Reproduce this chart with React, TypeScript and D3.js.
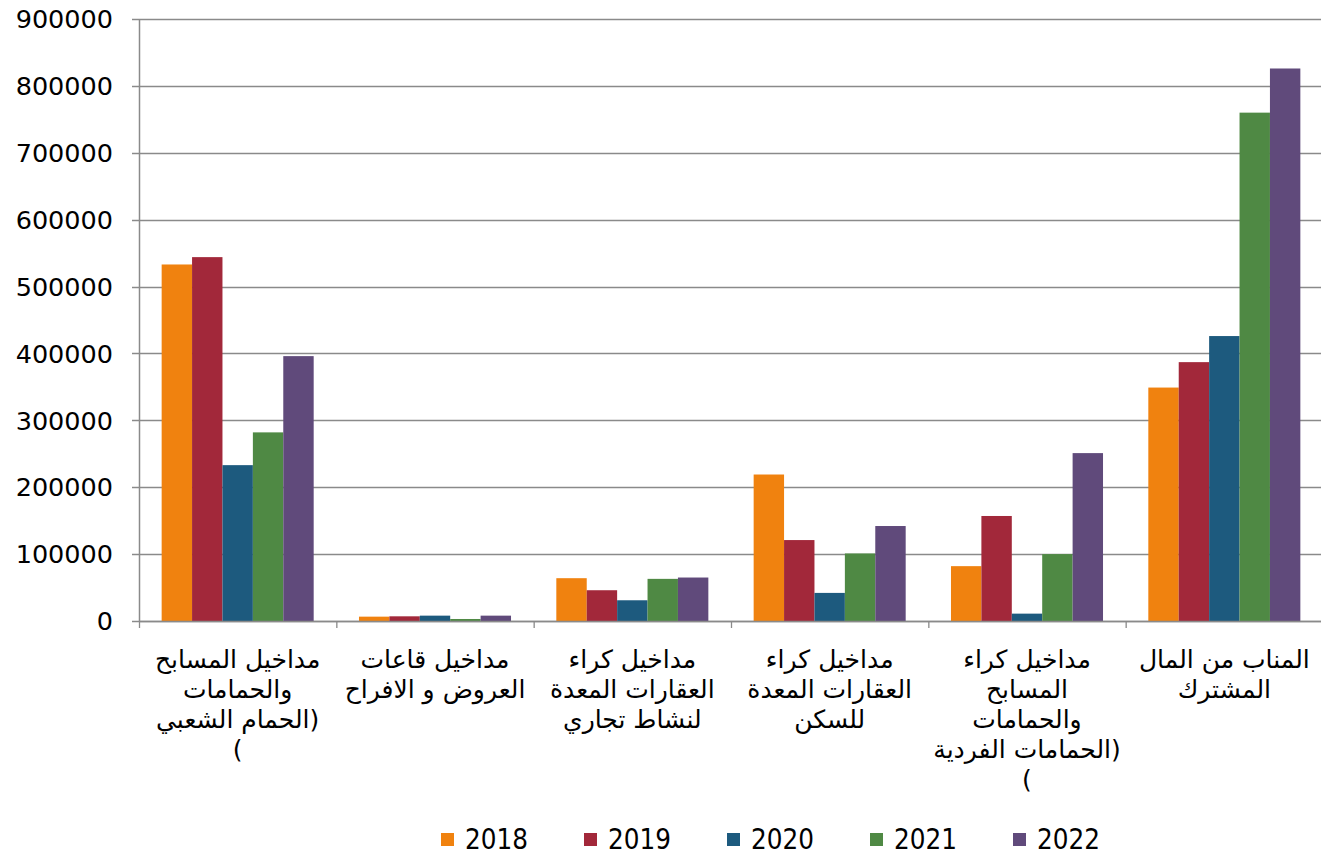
import React from "react";
import * as d3 from "d3";

// Parentheses as they appear in the rendered right-to-left lines
const PAREN_LEFT_SIDE = "\u0029";
const PAREN_ALONE = "\u0028";

const categories: string[][] = [
  ["مداخيل المسابح", "والحمامات", "الحمام الشعبي" + PAREN_LEFT_SIDE, PAREN_ALONE],
  ["مداخيل قاعات", "العروض و الافراح"],
  ["مداخيل كراء", "العقارات المعدة", "لنشاط تجاري"],
  ["مداخيل كراء", "العقارات المعدة", "للسكن"],
  ["مداخيل كراء", "المسابح", "والحمامات", "الحمامات الفردية" + PAREN_LEFT_SIDE, PAREN_ALONE],
  ["المناب من المال", "المشترك"],
];

const years = ["2018", "2019", "2020", "2021", "2022"];
const v2018 = [533000, 6500, 64000, 219000, 82000, 349000];
const v2019 = [544000, 7000, 46000, 121000, 157000, 387000];
const v2020 = [233000, 8000, 31000, 42000, 11000, 426000];
const v2021 = [282000, 3000, 63000, 101000, 100000, 760000];
const v2022 = [396000, 8000, 65000, 142000, 251000, 826000];
const series = [v2018, v2019, v2020, v2021, v2022];
const colors = ["#F0820F", "#A2283A", "#1D5A7E", "#4F8944", "#604A7B"];
const yTicks = [0, 100000, 200000, 300000, 400000, 500000, 600000, 700000, 800000, 900000];

const W = 1321;
const H = 856;
const left = 139;
const right = 1323;
const top = 19;
const bottom = 621;

export default function App() {
  const ids = categories.map((_, i) => String(i));
  const x = d3.scaleBand<string>().domain(ids).range([left, right]).paddingInner(0).paddingOuter(0);
  const xs = d3.scaleBand<string>().domain(years).range([0, x.bandwidth()]).paddingInner(0).paddingOuter(0.745);
  const y = d3.scaleLinear().domain([0, 900000]).range([bottom, top]);
  const axisColor = "#8A8A8A";
  const font = "'DejaVu Sans', Verdana, sans-serif";
  const legendX = d3.scaleLinear().domain([0, 4]).range([441, 1013]);

  return (
    <div style={{ position: "fixed", left: 0, top: 0 }}>
      <svg width={W} height={H} style={{ display: "block", background: "#fff" }}>
        {yTicks.map((t) => (
          <g key={t}>
            <line x1={left - 7} x2={right} y1={Math.round(y(t)) + 0.5} y2={Math.round(y(t)) + 0.5} stroke={axisColor} strokeWidth={1.3} />
            <text x={113} y={y(t)} dy="0.36em" textAnchor="end" fontFamily={font} fontSize={25.5} fill="#000">
              {t}
            </text>
          </g>
        ))}
        <line x1={left + 0.5} x2={left + 0.5} y1={top} y2={bottom} stroke={axisColor} strokeWidth={1.5} />
        {ids.map((id, i) => (
          <g key={id}>
            {years.map((yr, j) => {
              const v = series[j][i];
              const bx = (x(id) as number) + (xs(yr) as number);
              return (
                <rect key={yr} x={bx} y={y(v)} width={xs.bandwidth()} height={bottom - y(v)} fill={colors[j]} />
              );
            })}
          </g>
        ))}
        <line x1={left} x2={right} y1={bottom + 0.5} y2={bottom + 0.5} stroke={axisColor} strokeWidth={1.5} />
        {ids.map((id) => (
          <line key={"t" + id} x1={(x(id) as number) + 0.5} x2={(x(id) as number) + 0.5} y1={bottom} y2={bottom + 7} stroke={axisColor} strokeWidth={1.3} />
        ))}
        {ids.map((id, i) =>
          categories[i].map((ln, k) => (
            <text
              key={"l" + id + "_" + k}
              x={(x(id) as number) + x.bandwidth() / 2}
              y={668 + k * 30}
              textAnchor="middle"
              fontFamily={font}
              fontSize={25}
              fill="#000"
              direction="ltr"
              style={{ direction: "ltr", unicodeBidi: "embed" }}
            >
              {"\u200E" + ln}
            </text>
          ))
        )}
        {years.map((yr, j) => (
          <g key={"lg" + yr}>
            <rect x={legendX(j)} y={833} width={13} height={13} fill={colors[j]} />
            <text x={legendX(j) + 24} y={849} fontFamily="'DejaVu Sans Condensed', 'DejaVu Sans', sans-serif" fontSize={27.5} fill="#000">
              {yr}
            </text>
          </g>
        ))}
      </svg>
    </div>
  );
}
